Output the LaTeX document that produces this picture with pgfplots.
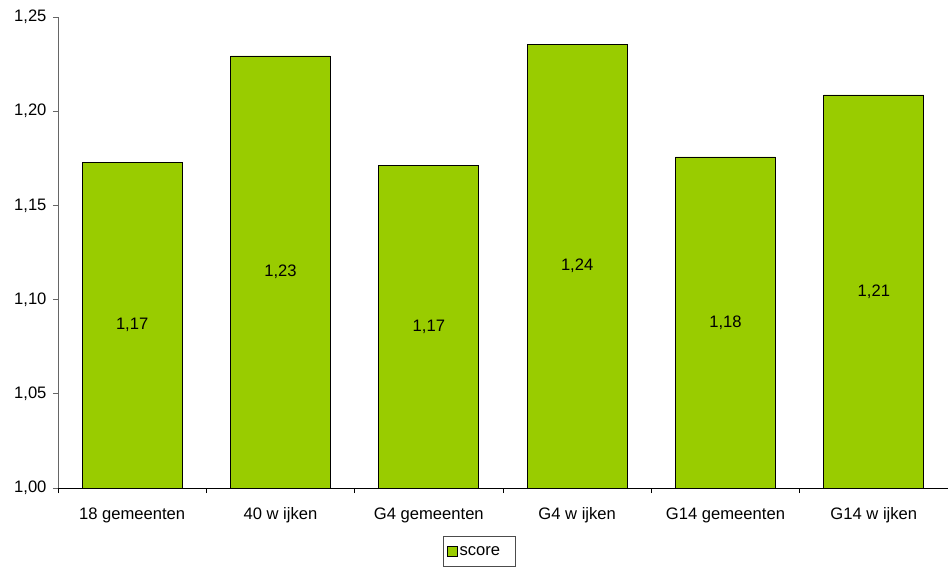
\documentclass[border=0pt]{standalone}
\usepackage{pgfplots}
\pgfplotsset{compat=1.18}
\usepackage{fontspec}
\setmainfont{Liberation Sans}
\definecolor{bargreen}{HTML}{99CC00}
\newcommand{\chartfont}{\fontsize{16.6pt}{19pt}\selectfont}
\begin{document}
\begin{tikzpicture}
\useasboundingbox (-58pt,-82pt) rectangle (890pt,488pt);
\begin{axis}[
  at={(0,0)}, anchor=south west,
  scale only axis,
  width=890pt, height=471pt,
  ymin=1, ymax=1.25,
  xmin=-0.5, xmax=5.5,
  axis x line*=bottom,
  axis y line*=left,
  axis line style={-, line width=0.8pt},
  y axis line style={draw=black!60},
  ytick={1,1.05,...,1.26},
  yticklabel style={/pgf/number format/use comma, /pgf/number format/fixed, /pgf/number format/fixed zerofill, /pgf/number format/precision=2, xshift=-3pt},
  /pgf/number format/assume math mode=true,
  xtick={0,1,2,3,4,5},
  xticklabels={18 gemeenten, 40 w ijken, G4 gemeenten, G4 w ijken, G14 gemeenten, G14 w ijken},
  minor xtick={-0.5,0.5,1.5,2.5,3.5,4.5,5.5},
  major x tick style={draw=none},
  minor x tick style={line width=0.8pt, black},
  y tick style={line width=0.8pt, black!60},
  tick align=outside,
  major tick length=5pt,
  minor tick length=5pt,
  tick label style={font=\chartfont},
  xticklabel style={yshift=-11pt},
  ybar, bar width=0.674, bar shift=0pt,
  visualization depends on={y \as \rawy},
  nodes near coords,
  nodes near coords style={font=\chartfont, /pgf/number format/use comma, /pgf/number format/fixed, /pgf/number format/fixed zerofill, /pgf/number format/precision=2, /pgf/number format/assume math mode=true},
  every node near coord/.append style={anchor=center, yshift={-(\rawy-1)*942pt}},
  legend style={at={(0.4736,-0.1348)}, anchor=center, font=\chartfont, draw=black!70, line width=0.8pt, inner xsep=3pt, inner ysep=8pt},
  legend image code/.code={\draw[fill=bargreen, draw=black, line width=0.8pt] (0pt,-4.5pt) rectangle (10pt,5.5pt);},
  legend cell align=left,
  clip=true,
]
\addplot[fill=bargreen, draw=black, line width=0.8pt] coordinates {
  (0,1.1727) (1,1.2293) (2,1.1714) (3,1.2355) (4,1.1757) (5,1.2086)
};
\addlegendentry{score\rule{10pt}{0pt}}
\end{axis}
\end{tikzpicture}
\end{document}
